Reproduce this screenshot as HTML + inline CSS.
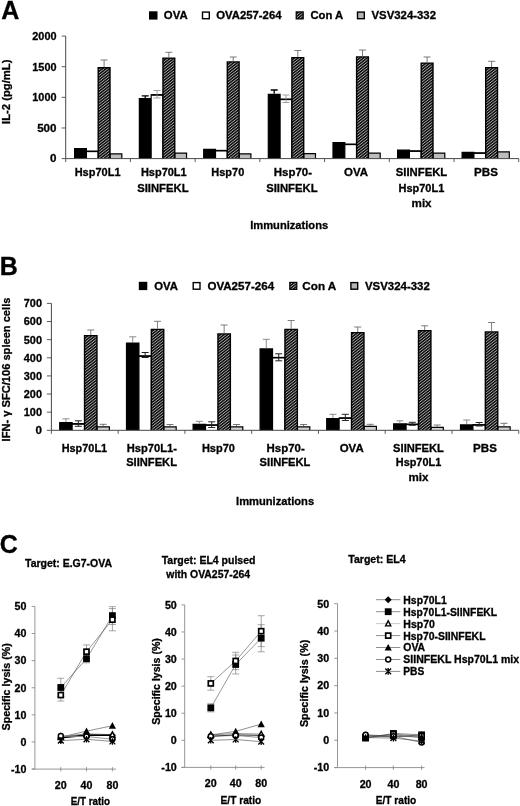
<!DOCTYPE html>
<html><head><meta charset="utf-8"><title>Figure</title>
<style>html,body{margin:0;padding:0;background:#fff}svg{display:block}</style></head><body>
<svg width="520" height="806" viewBox="0 0 520 806" font-family="Liberation Sans, sans-serif" font-weight="bold" fill="#000">
<style>text{stroke:#000;stroke-width:0.3px}</style>
<defs><pattern id="hatch" width="2.24" height="2.24" patternUnits="userSpaceOnUse" patternTransform="rotate(-38)"><rect width="2.24" height="2.24" fill="#acacac"/><rect width="2.24" height="1.38" fill="#060606"/></pattern>
<pattern id="hatchs" width="2" height="2" patternUnits="userSpaceOnUse" patternTransform="rotate(-45)"><rect width="2" height="2" fill="#c8c8c8"/><rect width="2" height="1.15" fill="#0a0a0a"/></pattern></defs>
<rect width="520" height="806" fill="#fff"/>
<text x="1.3" y="19.1" font-size="25" text-anchor="start" >A</text>
<text x="-0.3" y="274.8" font-size="25" text-anchor="start" >B</text>
<text x="-0.3" y="552.6" font-size="25" text-anchor="start" >C</text>
<rect x="149" y="11.3" width="8.5" height="8.3" fill="#000"/>
<text x="163.8" y="19.200000000000003" font-size="11" text-anchor="start" textLength="23.8" lengthAdjust="spacingAndGlyphs" >OVA</text>
<rect x="202.5" y="12.100000000000001" width="6.8" height="6.6" fill="#fff" stroke="#000" stroke-width="1.4"/>
<text x="216.2" y="19.200000000000003" font-size="11" text-anchor="start" textLength="65.3" lengthAdjust="spacingAndGlyphs" >OVA257-264</text>
<rect x="296.20000000000005" y="11.9" width="7" height="7" fill="url(#hatch)" stroke="#000" stroke-width="1.2"/>
<text x="310.4" y="19.200000000000003" font-size="11" text-anchor="start" textLength="32.8" lengthAdjust="spacingAndGlyphs" >Con A</text>
<rect x="357.5" y="12.100000000000001" width="6.8" height="6.6" fill="#b4b4b4" stroke="#000" stroke-width="1.4"/>
<text x="371.5" y="19.200000000000003" font-size="11" text-anchor="start" textLength="64.5" lengthAdjust="spacingAndGlyphs" >VSV324-332</text>
<path d="M74.6 158.6V148.6H86.4V158.6" fill="#000" stroke="#000" stroke-width="1.2"/>
<path d="M86.4 158.6V151.4H98.2V158.6" fill="#fff" stroke="#000" stroke-width="1.2"/>
<path d="M86.4 151.4H98.2" stroke="#000" stroke-width="1.5"/>
<path d="M110.0 158.6V153.9H121.8V158.6" fill="#bdbdbd" stroke="#000" stroke-width="1.2"/>
<path d="M98.2 158.6V67.8H110.0V158.6" fill="url(#hatch)" stroke="#000" stroke-width="1.4"/>
<path d="M104.1 60V67.2M100.6 60H107.6" stroke="#5a5a5a" stroke-width="0.8" fill="none"/>
<path d="M139.35 158.6V98.6H151.15V158.6" fill="#000" stroke="#000" stroke-width="1.2"/>
<path d="M151.15 158.6V94.9H162.95V158.6" fill="#fff" stroke="#000" stroke-width="1.2"/>
<path d="M151.15 94.9H162.95" stroke="#000" stroke-width="1.5"/>
<path d="M174.75 158.6V153.1H186.55V158.6" fill="#bdbdbd" stroke="#000" stroke-width="1.2"/>
<path d="M162.95 158.6V58.1H174.75V158.6" fill="url(#hatch)" stroke="#000" stroke-width="1.4"/>
<path d="M145.25 95.8V98M141.75 95.8H148.75" stroke="#000" stroke-width="1.3" fill="none"/>
<path d="M157.05 90.5V98M153.55 90.5H160.55M153.55 98H160.55" stroke="#8a8a8a" stroke-width="0.8" fill="none"/>
<path d="M168.85 52.3V57.5M165.35 52.3H172.35" stroke="#5a5a5a" stroke-width="0.8" fill="none"/>
<path d="M203.7 158.6V149.4H215.5V158.6" fill="#000" stroke="#000" stroke-width="1.2"/>
<path d="M215.5 158.6V150.6H227.3V158.6" fill="#fff" stroke="#000" stroke-width="1.2"/>
<path d="M215.5 150.6H227.3" stroke="#000" stroke-width="1.5"/>
<path d="M239.1 158.6V153.9H250.9V158.6" fill="#bdbdbd" stroke="#000" stroke-width="1.2"/>
<path d="M227.3 158.6V61.9H239.1V158.6" fill="url(#hatch)" stroke="#000" stroke-width="1.4"/>
<path d="M233.2 57V61.3M229.7 57H236.7" stroke="#5a5a5a" stroke-width="0.8" fill="none"/>
<path d="M268.3 158.6V94.4H280.1V158.6" fill="#000" stroke="#000" stroke-width="1.2"/>
<path d="M280.1 158.6V99.4H291.9V158.6" fill="#fff" stroke="#000" stroke-width="1.2"/>
<path d="M280.1 99.4H291.9" stroke="#000" stroke-width="1.5"/>
<path d="M303.7 158.6V153.6H315.5V158.6" fill="#bdbdbd" stroke="#000" stroke-width="1.2"/>
<path d="M291.9 158.6V57.6H303.7V158.6" fill="url(#hatch)" stroke="#000" stroke-width="1.4"/>
<path d="M274.2 90V93.8M270.7 90H277.7" stroke="#000" stroke-width="1.3" fill="none"/>
<path d="M286.0 95V102.5M282.5 95H289.5M282.5 102.5H289.5" stroke="#8a8a8a" stroke-width="0.8" fill="none"/>
<path d="M297.8 50.5V57M294.3 50.5H301.3" stroke="#5a5a5a" stroke-width="0.8" fill="none"/>
<path d="M333.0 158.6V142.6H344.8V158.6" fill="#000" stroke="#000" stroke-width="1.2"/>
<path d="M344.8 158.6V144.4H356.6V158.6" fill="#fff" stroke="#000" stroke-width="1.2"/>
<path d="M344.8 144.4H356.6" stroke="#000" stroke-width="1.5"/>
<path d="M368.4 158.6V153.1H380.2V158.6" fill="#bdbdbd" stroke="#000" stroke-width="1.2"/>
<path d="M356.6 158.6V56.9H368.4V158.6" fill="url(#hatch)" stroke="#000" stroke-width="1.4"/>
<path d="M362.5 50V56.3M359.0 50H366.0" stroke="#5a5a5a" stroke-width="0.8" fill="none"/>
<path d="M397.6 158.6V150.1H409.4V158.6" fill="#000" stroke="#000" stroke-width="1.2"/>
<path d="M409.4 158.6V151.1H421.2V158.6" fill="#fff" stroke="#000" stroke-width="1.2"/>
<path d="M409.4 151.1H421.2" stroke="#000" stroke-width="1.5"/>
<path d="M433.0 158.6V153.1H444.8V158.6" fill="#bdbdbd" stroke="#000" stroke-width="1.2"/>
<path d="M421.2 158.6V63.1H433.0V158.6" fill="url(#hatch)" stroke="#000" stroke-width="1.4"/>
<path d="M427.1 57V62.5M423.6 57H430.6" stroke="#5a5a5a" stroke-width="0.8" fill="none"/>
<path d="M462.1 158.6V152.4H473.9V158.6" fill="#000" stroke="#000" stroke-width="1.2"/>
<path d="M473.9 158.6V153.1H485.7V158.6" fill="#fff" stroke="#000" stroke-width="1.2"/>
<path d="M473.9 153.1H485.7" stroke="#000" stroke-width="1.5"/>
<path d="M497.5 158.6V151.9H509.3V158.6" fill="#bdbdbd" stroke="#000" stroke-width="1.2"/>
<path d="M485.7 158.6V67.6H497.5V158.6" fill="url(#hatch)" stroke="#000" stroke-width="1.4"/>
<path d="M491.6 61.3V67M488.1 61.3H495.1" stroke="#5a5a5a" stroke-width="0.8" fill="none"/>
<path d="M65.7 36.1V158.6H518.8" stroke="#484848" stroke-width="1" fill="none"/>
<path d="M61.7 36.1H65.7" stroke="#484848" stroke-width="0.9"/>
<text x="56.5" y="39.9" font-size="11.6" text-anchor="end" textLength="24.2" lengthAdjust="spacingAndGlyphs" >2000</text>
<path d="M61.7 66.72H65.7" stroke="#484848" stroke-width="0.9"/>
<text x="56.5" y="70.5" font-size="11.6" text-anchor="end" textLength="24.2" lengthAdjust="spacingAndGlyphs" >1500</text>
<path d="M61.7 97.35H65.7" stroke="#484848" stroke-width="0.9"/>
<text x="56.5" y="101.1" font-size="11.6" text-anchor="end" textLength="24.2" lengthAdjust="spacingAndGlyphs" >1000</text>
<path d="M61.7 127.97H65.7" stroke="#484848" stroke-width="0.9"/>
<text x="56.5" y="131.8" font-size="11.6" text-anchor="end" >500</text>
<path d="M61.7 158.6H65.7" stroke="#484848" stroke-width="0.9"/>
<text x="56.5" y="162.4" font-size="11.6" text-anchor="end" >0</text>
<path d="M65.7 158.6V162.1" stroke="#484848" stroke-width="0.9"/>
<path d="M130.42 158.6V162.1" stroke="#484848" stroke-width="0.9"/>
<path d="M195.14 158.6V162.1" stroke="#484848" stroke-width="0.9"/>
<path d="M259.86 158.6V162.1" stroke="#484848" stroke-width="0.9"/>
<path d="M324.58 158.6V162.1" stroke="#484848" stroke-width="0.9"/>
<path d="M389.3 158.6V162.1" stroke="#484848" stroke-width="0.9"/>
<path d="M454.02 158.6V162.1" stroke="#484848" stroke-width="0.9"/>
<path d="M518.74 158.6V162.1" stroke="#484848" stroke-width="0.9"/>
<text transform="translate(10,124) rotate(-90)" font-size="11.6" textLength="64.5" lengthAdjust="spacingAndGlyphs">IL-2 (pg/mL)</text>
<text x="97.6" y="176.2" font-size="11.6" text-anchor="middle" textLength="45.8" lengthAdjust="spacingAndGlyphs" >Hsp70L1</text>
<text x="163.8" y="176.2" font-size="11.6" text-anchor="middle" textLength="45.8" lengthAdjust="spacingAndGlyphs" >Hsp70L1</text>
<text x="162.9" y="191.8" font-size="11.6" text-anchor="middle" textLength="51.5" lengthAdjust="spacingAndGlyphs" >SIINFEKL</text>
<text x="227.8" y="176.2" font-size="11.6" text-anchor="middle" textLength="33" lengthAdjust="spacingAndGlyphs" >Hsp70</text>
<text x="292.9" y="176.2" font-size="11.6" text-anchor="middle" textLength="38.2" lengthAdjust="spacingAndGlyphs" >Hsp70-</text>
<text x="291.9" y="191.8" font-size="11.6" text-anchor="middle" textLength="51.5" lengthAdjust="spacingAndGlyphs" >SIINFEKL</text>
<text x="356" y="176.2" font-size="11.6" text-anchor="middle" textLength="24" lengthAdjust="spacingAndGlyphs" >OVA</text>
<text x="421.5" y="176.2" font-size="11.6" text-anchor="middle" textLength="51.5" lengthAdjust="spacingAndGlyphs" >SIINFEKL</text>
<text x="421.4" y="191.8" font-size="11.6" text-anchor="middle" textLength="45.8" lengthAdjust="spacingAndGlyphs" >Hsp70L1</text>
<text x="421.6" y="207.3" font-size="11.6" text-anchor="middle" >mix</text>
<text x="486" y="176.2" font-size="11.6" text-anchor="middle" >PBS</text>
<text x="289.2" y="228.5" font-size="11.6" text-anchor="middle" textLength="78" lengthAdjust="spacingAndGlyphs" >Immunizations</text>
<rect x="138.8" y="281.8" width="8.5" height="8.3" fill="#000"/>
<text x="154.3" y="289.7" font-size="11" text-anchor="start" textLength="23.7" lengthAdjust="spacingAndGlyphs" >OVA</text>
<rect x="193.2" y="282.6" width="6.8" height="6.6" fill="#fff" stroke="#000" stroke-width="1.4"/>
<text x="207.4" y="289.7" font-size="11" text-anchor="start" textLength="66.7" lengthAdjust="spacingAndGlyphs" >OVA257-264</text>
<rect x="289.8" y="282.40000000000003" width="7" height="7" fill="url(#hatch)" stroke="#000" stroke-width="1.2"/>
<text x="302.3" y="289.7" font-size="11" text-anchor="start" textLength="34" lengthAdjust="spacingAndGlyphs" >Con A</text>
<rect x="350.9" y="282.6" width="6.8" height="6.6" fill="#b4b4b4" stroke="#000" stroke-width="1.4"/>
<text x="365" y="289.7" font-size="11" text-anchor="start" textLength="64.8" lengthAdjust="spacingAndGlyphs" >VSV324-332</text>
<path d="M59.7 430.3V422.6H72.12V430.3" fill="#000" stroke="#000" stroke-width="1.2"/>
<path d="M72.12 430.3V423.9H84.54V430.3" fill="#fff" stroke="#000" stroke-width="1.2"/>
<path d="M72.12 423.9H84.54" stroke="#000" stroke-width="1.5"/>
<path d="M96.96 430.3V426.9H109.38V430.3" fill="#d2d2d2" stroke="#000" stroke-width="1.2"/>
<path d="M84.54 430.3V335.6H96.96V430.3" fill="url(#hatch)" stroke="#000" stroke-width="1.4"/>
<path d="M65.91 418.8V422M62.41 418.8H69.41" stroke="#808080" stroke-width="0.9" fill="none"/>
<path d="M78.33 420.8V426.3M74.83 420.8H81.83M74.83 426.3H81.83" stroke="#222" stroke-width="1.0" fill="none"/>
<path d="M90.75 330V335M87.25 330H94.25" stroke="#707070" stroke-width="0.9" fill="none"/>
<path d="M103.17 424.3V426.3M99.67 424.3H106.67" stroke="#555" stroke-width="0.8" fill="none"/>
<path d="M126.5 430.3V343.1H138.92V430.3" fill="#000" stroke="#000" stroke-width="1.2"/>
<path d="M138.92 430.3V356.1H151.34V430.3" fill="#fff" stroke="#000" stroke-width="1.2"/>
<path d="M138.92 356.1H151.34" stroke="#000" stroke-width="1.5"/>
<path d="M163.76 430.3V426.9H176.18V430.3" fill="#d2d2d2" stroke="#000" stroke-width="1.2"/>
<path d="M151.34 430.3V329.4H163.76V430.3" fill="url(#hatch)" stroke="#000" stroke-width="1.4"/>
<path d="M132.71 336.8V342.5M129.21 336.8H136.21" stroke="#808080" stroke-width="0.9" fill="none"/>
<path d="M145.13 352.5V357.5M141.63 352.5H148.63M141.63 357.5H148.63" stroke="#222" stroke-width="1.0" fill="none"/>
<path d="M157.55 321.3V328.8M154.05 321.3H161.05" stroke="#707070" stroke-width="0.9" fill="none"/>
<path d="M169.97 424.5V426.3M166.47 424.5H173.47" stroke="#555" stroke-width="0.8" fill="none"/>
<path d="M193.1 430.3V424.4H205.52V430.3" fill="#000" stroke="#000" stroke-width="1.2"/>
<path d="M205.52 430.3V425.1H217.94V430.3" fill="#fff" stroke="#000" stroke-width="1.2"/>
<path d="M205.52 425.1H217.94" stroke="#000" stroke-width="1.5"/>
<path d="M230.36 430.3V426.9H242.78V430.3" fill="#d2d2d2" stroke="#000" stroke-width="1.2"/>
<path d="M217.94 430.3V333.9H230.36V430.3" fill="url(#hatch)" stroke="#000" stroke-width="1.4"/>
<path d="M199.31 421.3V423.8M195.81 421.3H202.81" stroke="#808080" stroke-width="0.9" fill="none"/>
<path d="M211.73 421.8V427.5M208.23 421.8H215.23M208.23 427.5H215.23" stroke="#222" stroke-width="1.0" fill="none"/>
<path d="M224.15 325V333.3M220.65 325H227.65" stroke="#707070" stroke-width="0.9" fill="none"/>
<path d="M236.57 424.5V426.3M233.07 424.5H240.07" stroke="#555" stroke-width="0.8" fill="none"/>
<path d="M260.1 430.3V348.9H272.52V430.3" fill="#000" stroke="#000" stroke-width="1.2"/>
<path d="M272.52 430.3V357.6H284.94V430.3" fill="#fff" stroke="#000" stroke-width="1.2"/>
<path d="M272.52 357.6H284.94" stroke="#000" stroke-width="1.5"/>
<path d="M297.36 430.3V426.9H309.78V430.3" fill="#d2d2d2" stroke="#000" stroke-width="1.2"/>
<path d="M284.94 430.3V329.4H297.36V430.3" fill="url(#hatch)" stroke="#000" stroke-width="1.4"/>
<path d="M266.31 339.3V348.3M262.81 339.3H269.81" stroke="#808080" stroke-width="0.9" fill="none"/>
<path d="M278.73 353.8V360.8M275.23 353.8H282.23M275.23 360.8H282.23" stroke="#222" stroke-width="1.0" fill="none"/>
<path d="M291.15 320.5V328.8M287.65 320.5H294.65" stroke="#707070" stroke-width="0.9" fill="none"/>
<path d="M303.57 424.5V426.3M300.07 424.5H307.07" stroke="#555" stroke-width="0.8" fill="none"/>
<path d="M326.7 430.3V418.6H339.12V430.3" fill="#000" stroke="#000" stroke-width="1.2"/>
<path d="M339.12 430.3V418.1H351.54V430.3" fill="#fff" stroke="#000" stroke-width="1.2"/>
<path d="M339.12 418.1H351.54" stroke="#000" stroke-width="1.5"/>
<path d="M363.96 430.3V426.4H376.38V430.3" fill="#d2d2d2" stroke="#000" stroke-width="1.2"/>
<path d="M351.54 430.3V332.6H363.96V430.3" fill="url(#hatch)" stroke="#000" stroke-width="1.4"/>
<path d="M332.91 414.3V418M329.41 414.3H336.41" stroke="#808080" stroke-width="0.9" fill="none"/>
<path d="M345.33 414.3V420.5M341.83 414.3H348.83M341.83 420.5H348.83" stroke="#222" stroke-width="1.0" fill="none"/>
<path d="M357.75 327V332M354.25 327H361.25" stroke="#707070" stroke-width="0.9" fill="none"/>
<path d="M370.17 424.3V425.8M366.67 424.3H373.67" stroke="#555" stroke-width="0.8" fill="none"/>
<path d="M393.65 430.3V423.9H406.07V430.3" fill="#000" stroke="#000" stroke-width="1.2"/>
<path d="M406.07 430.3V424.4H418.49V430.3" fill="#fff" stroke="#000" stroke-width="1.2"/>
<path d="M406.07 424.4H418.49" stroke="#000" stroke-width="1.5"/>
<path d="M430.91 430.3V427.3H443.33V430.3" fill="#d2d2d2" stroke="#000" stroke-width="1.2"/>
<path d="M418.49 430.3V330.6H430.91V430.3" fill="url(#hatch)" stroke="#000" stroke-width="1.4"/>
<path d="M399.86 420.8V423.3M396.36 420.8H403.36" stroke="#808080" stroke-width="0.9" fill="none"/>
<path d="M412.28 422.3V425.3M408.78 422.3H415.78M408.78 425.3H415.78" stroke="#222" stroke-width="1.0" fill="none"/>
<path d="M424.7 325.8V330M421.2 325.8H428.2" stroke="#707070" stroke-width="0.9" fill="none"/>
<path d="M437.12 425V426.7M433.62 425H440.62" stroke="#555" stroke-width="0.8" fill="none"/>
<path d="M460.5 430.3V424.9H472.92V430.3" fill="#000" stroke="#000" stroke-width="1.2"/>
<path d="M472.92 430.3V424.9H485.34V430.3" fill="#fff" stroke="#000" stroke-width="1.2"/>
<path d="M472.92 424.9H485.34" stroke="#000" stroke-width="1.5"/>
<path d="M497.76 430.3V426.9H510.18V430.3" fill="#d2d2d2" stroke="#000" stroke-width="1.2"/>
<path d="M485.34 430.3V331.9H497.76V430.3" fill="url(#hatch)" stroke="#000" stroke-width="1.4"/>
<path d="M466.71 420V424.3M463.21 420H470.21" stroke="#808080" stroke-width="0.9" fill="none"/>
<path d="M479.13 422.5V426M475.63 422.5H482.63M475.63 426H482.63" stroke="#222" stroke-width="1.0" fill="none"/>
<path d="M491.55 322.5V331.3M488.05 322.5H495.05" stroke="#707070" stroke-width="0.9" fill="none"/>
<path d="M503.97 423.3V426.3M500.47 423.3H507.47" stroke="#555" stroke-width="0.8" fill="none"/>
<path d="M51.4 303.4V430.3H518.7" stroke="#484848" stroke-width="1" fill="none"/>
<path d="M46.9 303.4H51.4" stroke="#484848" stroke-width="0.9"/>
<text x="42" y="307.2" font-size="11.6" text-anchor="end" textLength="18.2" lengthAdjust="spacingAndGlyphs" >700</text>
<path d="M46.9 321.53H51.4" stroke="#484848" stroke-width="0.9"/>
<text x="42" y="325.3" font-size="11.6" text-anchor="end" textLength="18.2" lengthAdjust="spacingAndGlyphs" >600</text>
<path d="M46.9 339.66H51.4" stroke="#484848" stroke-width="0.9"/>
<text x="42" y="343.5" font-size="11.6" text-anchor="end" textLength="18.2" lengthAdjust="spacingAndGlyphs" >500</text>
<path d="M46.9 357.79H51.4" stroke="#484848" stroke-width="0.9"/>
<text x="42" y="361.6" font-size="11.6" text-anchor="end" textLength="18.2" lengthAdjust="spacingAndGlyphs" >400</text>
<path d="M46.9 375.91H51.4" stroke="#484848" stroke-width="0.9"/>
<text x="42" y="379.7" font-size="11.6" text-anchor="end" textLength="18.2" lengthAdjust="spacingAndGlyphs" >300</text>
<path d="M46.9 394.04H51.4" stroke="#484848" stroke-width="0.9"/>
<text x="42" y="397.8" font-size="11.6" text-anchor="end" textLength="18.2" lengthAdjust="spacingAndGlyphs" >200</text>
<path d="M46.9 412.17H51.4" stroke="#484848" stroke-width="0.9"/>
<text x="42" y="416.0" font-size="11.6" text-anchor="end" textLength="18.2" lengthAdjust="spacingAndGlyphs" >100</text>
<path d="M46.9 430.3H51.4" stroke="#484848" stroke-width="0.9"/>
<text x="42" y="434.1" font-size="11.6" text-anchor="end" >0</text>
<path d="M51.4 430.3V433.8" stroke="#484848" stroke-width="0.9"/>
<path d="M118.16 430.3V433.8" stroke="#484848" stroke-width="0.9"/>
<path d="M184.92 430.3V433.8" stroke="#484848" stroke-width="0.9"/>
<path d="M251.68 430.3V433.8" stroke="#484848" stroke-width="0.9"/>
<path d="M318.44 430.3V433.8" stroke="#484848" stroke-width="0.9"/>
<path d="M385.2 430.3V433.8" stroke="#484848" stroke-width="0.9"/>
<path d="M451.96 430.3V433.8" stroke="#484848" stroke-width="0.9"/>
<path d="M518.72 430.3V433.8" stroke="#484848" stroke-width="0.9"/>
<text transform="translate(10,441.4) rotate(-90)" font-size="11.6" textLength="143.8" lengthAdjust="spacingAndGlyphs">IFN- γ SFC/106 spleen cells</text>
<text x="84.4" y="452" font-size="11.6" text-anchor="middle" textLength="45.4" lengthAdjust="spacingAndGlyphs" >Hsp70L1</text>
<text x="151.9" y="452" font-size="11.6" text-anchor="middle" textLength="50.2" lengthAdjust="spacingAndGlyphs" >Hsp70L1-</text>
<text x="151.6" y="466.3" font-size="11.6" text-anchor="middle" textLength="50.8" lengthAdjust="spacingAndGlyphs" >SIINFEKL</text>
<text x="218.4" y="452" font-size="11.6" text-anchor="middle" textLength="33" lengthAdjust="spacingAndGlyphs" >Hsp70</text>
<text x="285.7" y="452" font-size="11.6" text-anchor="middle" textLength="38.2" lengthAdjust="spacingAndGlyphs" >Hsp70-</text>
<text x="285" y="466.3" font-size="11.6" text-anchor="middle" textLength="50.8" lengthAdjust="spacingAndGlyphs" >SIINFEKL</text>
<text x="351.7" y="452" font-size="11.6" text-anchor="middle" textLength="24" lengthAdjust="spacingAndGlyphs" >OVA</text>
<text x="418.5" y="452" font-size="11.6" text-anchor="middle" textLength="50.8" lengthAdjust="spacingAndGlyphs" >SIINFEKL</text>
<text x="418.5" y="466.3" font-size="11.6" text-anchor="middle" textLength="45.4" lengthAdjust="spacingAndGlyphs" >Hsp70L1</text>
<text x="418.5" y="480.8" font-size="11.6" text-anchor="middle" >mix</text>
<text x="485" y="452" font-size="11.6" text-anchor="middle" >PBS</text>
<text x="275.1" y="505.3" font-size="11.6" text-anchor="middle" textLength="78" lengthAdjust="spacingAndGlyphs" >Immunizations</text>
<path d="M34.9 606.4V769.1H116M31.7 769.1H34.9" stroke="#8a8a8a" stroke-width="0.9" fill="none"/>
<path d="M31.7 606.4H34.9" stroke="#8a8a8a" stroke-width="0.9"/>
<text x="26.4" y="610.2" font-size="10.7" text-anchor="end" >50</text>
<path d="M31.7 633.52H34.9" stroke="#8a8a8a" stroke-width="0.9"/>
<text x="26.4" y="637.3" font-size="10.7" text-anchor="end" >40</text>
<path d="M31.7 660.63H34.9" stroke="#8a8a8a" stroke-width="0.9"/>
<text x="26.4" y="664.4" font-size="10.7" text-anchor="end" >30</text>
<path d="M31.7 687.75H34.9" stroke="#8a8a8a" stroke-width="0.9"/>
<text x="26.4" y="691.5" font-size="10.7" text-anchor="end" >20</text>
<path d="M31.7 714.87H34.9" stroke="#8a8a8a" stroke-width="0.9"/>
<text x="26.4" y="718.7" font-size="10.7" text-anchor="end" >10</text>
<path d="M31.7 741.98H34.9" stroke="#8a8a8a" stroke-width="0.9"/>
<text x="26.4" y="745.8" font-size="10.7" text-anchor="end" >0</text>
<path d="M31.7 769.1H34.9" stroke="#8a8a8a" stroke-width="0.9"/>
<text x="26.4" y="772.9" font-size="10.7" text-anchor="end" >-10</text>
<path d="M60.8 767.1V771.3000000000001" stroke="#8a8a8a" stroke-width="0.9"/>
<text x="60.8" y="788.8" font-size="10.7" text-anchor="middle" >20</text>
<path d="M86.5 767.1V771.3000000000001" stroke="#8a8a8a" stroke-width="0.9"/>
<text x="86.5" y="788.8" font-size="10.7" text-anchor="middle" >40</text>
<path d="M112.4 767.1V771.3000000000001" stroke="#8a8a8a" stroke-width="0.9"/>
<text x="112.4" y="788.8" font-size="10.7" text-anchor="middle" >80</text>
<text x="90.4" y="804.5" font-size="10.7" text-anchor="middle" textLength="39.3" lengthAdjust="spacingAndGlyphs" >E/T ratio</text>
<text x="68.5" y="566.8" font-size="10.7" text-anchor="middle" textLength="87" lengthAdjust="spacingAndGlyphs" >Target: E.G7-OVA</text>
<text transform="translate(9.8,730.4) rotate(-90)" font-size="10.7" textLength="87.2" lengthAdjust="spacingAndGlyphs">Specific lysis (%)</text>
<polyline points="60.8,737.64 86.5,735.2 112.4,735.2" fill="none" stroke="#000" stroke-width="1.7"/>
<polyline points="60.8,687.48 86.5,658.74 112.4,615.62" fill="none" stroke="#505050" stroke-width="0.6"/>
<polyline points="60.8,736.56 86.5,733.85 112.4,734.66" fill="none" stroke="#444" stroke-width="0.6"/>
<polyline points="60.8,695.07 86.5,651.68 112.4,619.69" fill="none" stroke="#505050" stroke-width="0.6"/>
<polyline points="60.8,737.1 86.5,731.14 112.4,725.71" fill="none" stroke="#444" stroke-width="0.6"/>
<polyline points="60.8,736.02 86.5,736.56 112.4,739.27" fill="none" stroke="#999" stroke-width="1.1"/>
<polyline points="60.8,740.63 86.5,739.27 112.4,741.44" fill="none" stroke="#444" stroke-width="0.6"/>
<path d="M60.8 678.26V696.7M57.3 678.26H64.3M57.3 696.7H64.3" stroke="#808080" stroke-width="0.7" fill="none"/>
<path d="M86.5 654.67V662.8M83.0 654.67H90.0M83.0 662.8H90.0" stroke="#808080" stroke-width="0.7" fill="none"/>
<path d="M112.4 606.67V624.57M108.9 606.67H115.9M108.9 624.57H115.9" stroke="#808080" stroke-width="0.7" fill="none"/>
<path d="M60.8 689.11V701.04M57.3 689.11H64.3M57.3 701.04H64.3" stroke="#808080" stroke-width="0.7" fill="none"/>
<path d="M86.5 644.91V658.46M83.0 644.91H90.0M83.0 658.46H90.0" stroke="#808080" stroke-width="0.7" fill="none"/>
<path d="M112.4 608.57V630.8M108.9 608.57H115.9M108.9 630.8H115.9" stroke="#808080" stroke-width="0.7" fill="none"/>
<path d="M60.8 734.14L64.3 737.64L60.8 741.14L57.3 737.64Z" fill="#000"/>
<path d="M86.5 731.7L90.0 735.2L86.5 738.7L83.0 735.2Z" fill="#000"/>
<path d="M112.4 731.7L115.9 735.2L112.4 738.7L108.9 735.2Z" fill="#000"/>
<rect x="57.4" y="684.08" width="6.8" height="6.8" fill="#000"/>
<rect x="83.1" y="655.34" width="6.8" height="6.8" fill="#000"/>
<rect x="109.0" y="612.22" width="6.8" height="6.8" fill="#000"/>
<path d="M60.8 733.76L63.4 738.86H58.199999999999996Z" fill="#fff" stroke="#000" stroke-width="1.4" stroke-linejoin="miter"/>
<path d="M86.5 731.05L89.1 736.15H83.9Z" fill="#fff" stroke="#000" stroke-width="1.4" stroke-linejoin="miter"/>
<path d="M112.4 731.86L115.0 736.96H109.80000000000001Z" fill="#fff" stroke="#000" stroke-width="1.4" stroke-linejoin="miter"/>
<rect x="58.3" y="692.57" width="5" height="5" fill="#fff" stroke="#000" stroke-width="1.7"/>
<rect x="84.0" y="649.18" width="5" height="5" fill="#fff" stroke="#000" stroke-width="1.7"/>
<rect x="109.9" y="617.19" width="5" height="5" fill="#fff" stroke="#000" stroke-width="1.7"/>
<path d="M60.8 733.5L64.39999999999999 740.2H57.199999999999996Z" fill="#000"/>
<path d="M86.5 727.54L90.1 734.24H82.9Z" fill="#000"/>
<path d="M112.4 722.11L116.0 728.81H108.80000000000001Z" fill="#000"/>
<circle cx="60.8" cy="736.02" r="2.5" fill="#fff" stroke="#000" stroke-width="1.5"/>
<circle cx="86.5" cy="736.56" r="2.5" fill="#fff" stroke="#000" stroke-width="1.5"/>
<circle cx="112.4" cy="739.27" r="2.5" fill="#fff" stroke="#000" stroke-width="1.5"/>
<path d="M57.9 737.73L63.699999999999996 743.53M63.699999999999996 737.73L57.9 743.53M60.8 737.33V743.93" stroke="#000" stroke-width="1.3" fill="none"/>
<path d="M83.6 736.37L89.4 742.17M89.4 736.37L83.6 742.17M86.5 735.97V742.57" stroke="#000" stroke-width="1.3" fill="none"/>
<path d="M109.5 738.54L115.30000000000001 744.34M115.30000000000001 738.54L109.5 744.34M112.4 738.14V744.74" stroke="#000" stroke-width="1.3" fill="none"/>
<path d="M184.7 604.9V767.4H264.5M181.5 767.4H184.7" stroke="#8a8a8a" stroke-width="0.9" fill="none"/>
<path d="M181.5 604.9H184.7" stroke="#8a8a8a" stroke-width="0.9"/>
<text x="176.8" y="608.7" font-size="10.7" text-anchor="end" >50</text>
<path d="M181.5 631.98H184.7" stroke="#8a8a8a" stroke-width="0.9"/>
<text x="176.8" y="635.8" font-size="10.7" text-anchor="end" >40</text>
<path d="M181.5 659.07H184.7" stroke="#8a8a8a" stroke-width="0.9"/>
<text x="176.8" y="662.9" font-size="10.7" text-anchor="end" >30</text>
<path d="M181.5 686.15H184.7" stroke="#8a8a8a" stroke-width="0.9"/>
<text x="176.8" y="689.9" font-size="10.7" text-anchor="end" >20</text>
<path d="M181.5 713.23H184.7" stroke="#8a8a8a" stroke-width="0.9"/>
<text x="176.8" y="717.0" font-size="10.7" text-anchor="end" >10</text>
<path d="M181.5 740.32H184.7" stroke="#8a8a8a" stroke-width="0.9"/>
<text x="176.8" y="744.1" font-size="10.7" text-anchor="end" >0</text>
<path d="M181.5 767.4H184.7" stroke="#8a8a8a" stroke-width="0.9"/>
<text x="176.8" y="771.2" font-size="10.7" text-anchor="end" >-10</text>
<path d="M210.8 765.4V769.6" stroke="#8a8a8a" stroke-width="0.9"/>
<text x="210.8" y="787.2" font-size="10.7" text-anchor="middle" >20</text>
<path d="M235.7 765.4V769.6" stroke="#8a8a8a" stroke-width="0.9"/>
<text x="235.7" y="787.2" font-size="10.7" text-anchor="middle" >40</text>
<path d="M261.2 765.4V769.6" stroke="#8a8a8a" stroke-width="0.9"/>
<text x="261.2" y="787.2" font-size="10.7" text-anchor="middle" >80</text>
<text x="240.9" y="803.8" font-size="10.7" text-anchor="middle" textLength="40.7" lengthAdjust="spacingAndGlyphs" >E/T ratio</text>
<text x="208.6" y="564.3" font-size="10.7" text-anchor="middle" textLength="93.8" lengthAdjust="spacingAndGlyphs" >Target: EL4 pulsed</text>
<text x="208.2" y="578" font-size="10.7" text-anchor="middle" textLength="83.8" lengthAdjust="spacingAndGlyphs" >with OVA257-264</text>
<text transform="translate(160.2,724.7) rotate(-90)" font-size="10.7" textLength="86.6" lengthAdjust="spacingAndGlyphs">Specific lysis (%)</text>
<polyline points="210.8,736.25 235.7,734.9 261.2,735.44" fill="none" stroke="#222" stroke-width="0.9"/>
<polyline points="210.8,707.82 235.7,664.48 261.2,638.21" fill="none" stroke="#505050" stroke-width="0.6"/>
<polyline points="210.8,734.9 235.7,733.55 261.2,734.09" fill="none" stroke="#444" stroke-width="0.6"/>
<polyline points="210.8,683.44 235.7,660.96 261.2,631.17" fill="none" stroke="#505050" stroke-width="0.6"/>
<polyline points="210.8,734.9 235.7,731.38 261.2,724.07" fill="none" stroke="#444" stroke-width="0.6"/>
<polyline points="210.8,736.25 235.7,735.44 261.2,737.61" fill="none" stroke="#444" stroke-width="0.6"/>
<polyline points="210.8,740.32 235.7,739.5 261.2,741.67" fill="none" stroke="#444" stroke-width="0.6"/>
<path d="M210.8 703.75V711.88M207.3 703.75H214.3M207.3 711.88H214.3" stroke="#808080" stroke-width="0.7" fill="none"/>
<path d="M235.7 655.0V673.96M232.2 655.0H239.2M232.2 673.96H239.2" stroke="#808080" stroke-width="0.7" fill="none"/>
<path d="M261.2 624.67V651.75M257.7 624.67H264.7M257.7 651.75H264.7" stroke="#808080" stroke-width="0.7" fill="none"/>
<path d="M210.8 676.67V690.21M207.3 676.67H214.3M207.3 690.21H214.3" stroke="#808080" stroke-width="0.7" fill="none"/>
<path d="M235.7 652.3V669.63M232.2 652.3H239.2M232.2 669.63H239.2" stroke="#808080" stroke-width="0.7" fill="none"/>
<path d="M261.2 615.73V646.61M257.7 615.73H264.7M257.7 646.61H264.7" stroke="#808080" stroke-width="0.7" fill="none"/>
<path d="M210.8 732.75L214.3 736.25L210.8 739.75L207.3 736.25Z" fill="#000"/>
<path d="M235.7 731.4L239.2 734.9L235.7 738.4L232.2 734.9Z" fill="#000"/>
<path d="M261.2 731.94L264.7 735.44L261.2 738.94L257.7 735.44Z" fill="#000"/>
<rect x="207.4" y="704.42" width="6.8" height="6.8" fill="#000"/>
<rect x="232.3" y="661.08" width="6.8" height="6.8" fill="#000"/>
<rect x="257.8" y="634.81" width="6.8" height="6.8" fill="#000"/>
<path d="M210.8 732.1L213.4 737.2H208.20000000000002Z" fill="#fff" stroke="#000" stroke-width="1.4" stroke-linejoin="miter"/>
<path d="M235.7 730.75L238.29999999999998 735.85H233.1Z" fill="#fff" stroke="#000" stroke-width="1.4" stroke-linejoin="miter"/>
<path d="M261.2 731.29L263.8 736.39H258.59999999999997Z" fill="#fff" stroke="#000" stroke-width="1.4" stroke-linejoin="miter"/>
<rect x="208.3" y="680.94" width="5" height="5" fill="#fff" stroke="#000" stroke-width="1.7"/>
<rect x="233.2" y="658.46" width="5" height="5" fill="#fff" stroke="#000" stroke-width="1.7"/>
<rect x="258.7" y="628.67" width="5" height="5" fill="#fff" stroke="#000" stroke-width="1.7"/>
<path d="M210.8 731.3L214.4 738.0H207.20000000000002Z" fill="#000"/>
<path d="M235.7 727.78L239.29999999999998 734.48H232.1Z" fill="#000"/>
<path d="M261.2 720.47L264.8 727.17H257.59999999999997Z" fill="#000"/>
<circle cx="210.8" cy="736.25" r="2.5" fill="#fff" stroke="#000" stroke-width="1.5"/>
<circle cx="235.7" cy="735.44" r="2.5" fill="#fff" stroke="#000" stroke-width="1.5"/>
<circle cx="261.2" cy="737.61" r="2.5" fill="#fff" stroke="#000" stroke-width="1.5"/>
<path d="M207.9 737.42L213.70000000000002 743.22M213.70000000000002 737.42L207.9 743.22M210.8 737.02V743.62" stroke="#000" stroke-width="1.3" fill="none"/>
<path d="M232.79999999999998 736.6L238.6 742.4M238.6 736.6L232.79999999999998 742.4M235.7 736.2V742.8" stroke="#000" stroke-width="1.3" fill="none"/>
<path d="M258.3 738.77L264.09999999999997 744.57M264.09999999999997 738.77L258.3 744.57M261.2 738.37V744.97" stroke="#000" stroke-width="1.3" fill="none"/>
<path d="M337.5 603.7V767.6H424.5M334.3 767.6H337.5" stroke="#8a8a8a" stroke-width="0.9" fill="none"/>
<path d="M334.3 603.7H337.5" stroke="#8a8a8a" stroke-width="0.9"/>
<text x="329.2" y="607.5" font-size="10.7" text-anchor="end" >50</text>
<path d="M334.3 631.02H337.5" stroke="#8a8a8a" stroke-width="0.9"/>
<text x="329.2" y="634.8" font-size="10.7" text-anchor="end" >40</text>
<path d="M334.3 658.33H337.5" stroke="#8a8a8a" stroke-width="0.9"/>
<text x="329.2" y="662.1" font-size="10.7" text-anchor="end" >30</text>
<path d="M334.3 685.65H337.5" stroke="#8a8a8a" stroke-width="0.9"/>
<text x="329.2" y="689.4" font-size="10.7" text-anchor="end" >20</text>
<path d="M334.3 712.97H337.5" stroke="#8a8a8a" stroke-width="0.9"/>
<text x="329.2" y="716.8" font-size="10.7" text-anchor="end" >10</text>
<path d="M334.3 740.28H337.5" stroke="#8a8a8a" stroke-width="0.9"/>
<text x="329.2" y="744.1" font-size="10.7" text-anchor="end" >0</text>
<path d="M334.3 767.6H337.5" stroke="#8a8a8a" stroke-width="0.9"/>
<text x="329.2" y="771.4" font-size="10.7" text-anchor="end" >-10</text>
<path d="M365.6 765.6V769.8000000000001" stroke="#8a8a8a" stroke-width="0.9"/>
<text x="365.6" y="788" font-size="10.7" text-anchor="middle" >20</text>
<path d="M393.4 765.6V769.8000000000001" stroke="#8a8a8a" stroke-width="0.9"/>
<text x="393.4" y="788" font-size="10.7" text-anchor="middle" >40</text>
<path d="M421.6 765.6V769.8000000000001" stroke="#8a8a8a" stroke-width="0.9"/>
<text x="421.6" y="788" font-size="10.7" text-anchor="middle" >80</text>
<text x="396" y="803.8" font-size="10.7" text-anchor="middle" textLength="40.5" lengthAdjust="spacingAndGlyphs" >E/T ratio</text>
<text x="376.9" y="562.5" font-size="10.7" text-anchor="middle" textLength="57.3" lengthAdjust="spacingAndGlyphs" >Target: EL4</text>
<text transform="translate(307.7,727) rotate(-90)" font-size="10.7" textLength="87.2" lengthAdjust="spacingAndGlyphs">Specific lysis (%)</text>
<polyline points="365.6,735.37 393.4,737.01 421.6,734.82" fill="none" stroke="#444" stroke-width="0.6"/>
<polyline points="365.6,738.1 393.4,733.45 421.6,734.82" fill="none" stroke="#444" stroke-width="0.6"/>
<polyline points="365.6,736.19 393.4,734.82 421.6,737.55" fill="none" stroke="#444" stroke-width="0.6"/>
<polyline points="365.6,737.55 393.4,734.27 421.6,736.19" fill="none" stroke="#444" stroke-width="0.6"/>
<polyline points="365.6,737.01 393.4,736.19 421.6,737.01" fill="none" stroke="#444" stroke-width="0.6"/>
<polyline points="365.6,734.82 393.4,736.19 421.6,742.47" fill="none" stroke="#444" stroke-width="0.6"/>
<polyline points="365.6,737.55 393.4,738.1 421.6,741.1" fill="none" stroke="#444" stroke-width="0.6"/>
<path d="M365.6 731.87L369.1 735.37L365.6 738.87L362.1 735.37Z" fill="#000"/>
<path d="M393.4 733.51L396.9 737.01L393.4 740.51L389.9 737.01Z" fill="#000"/>
<path d="M421.6 731.32L425.1 734.82L421.6 738.32L418.1 734.82Z" fill="#000"/>
<rect x="362.2" y="734.7" width="6.8" height="6.8" fill="#000"/>
<rect x="390.0" y="730.05" width="6.8" height="6.8" fill="#000"/>
<rect x="418.2" y="731.42" width="6.8" height="6.8" fill="#000"/>
<path d="M365.6 733.39L368.20000000000005 738.49H363.0Z" fill="#fff" stroke="#000" stroke-width="1.4" stroke-linejoin="miter"/>
<path d="M393.4 732.02L396.0 737.12H390.79999999999995Z" fill="#fff" stroke="#000" stroke-width="1.4" stroke-linejoin="miter"/>
<path d="M421.6 734.75L424.20000000000005 739.85H419.0Z" fill="#fff" stroke="#000" stroke-width="1.4" stroke-linejoin="miter"/>
<rect x="363.1" y="735.05" width="5" height="5" fill="#fff" stroke="#000" stroke-width="1.7"/>
<rect x="390.9" y="731.77" width="5" height="5" fill="#fff" stroke="#000" stroke-width="1.7"/>
<rect x="419.1" y="733.69" width="5" height="5" fill="#fff" stroke="#000" stroke-width="1.7"/>
<path d="M365.6 733.41L369.20000000000005 740.11H362.0Z" fill="#000"/>
<path d="M393.4 732.59L397.0 739.29H389.79999999999995Z" fill="#000"/>
<path d="M421.6 733.41L425.20000000000005 740.11H418.0Z" fill="#000"/>
<circle cx="365.6" cy="734.82" r="2.5" fill="#fff" stroke="#000" stroke-width="1.5"/>
<circle cx="393.4" cy="736.19" r="2.5" fill="#fff" stroke="#000" stroke-width="1.5"/>
<circle cx="421.6" cy="742.47" r="2.5" fill="#fff" stroke="#000" stroke-width="1.5"/>
<path d="M362.70000000000005 734.65L368.5 740.45M368.5 734.65L362.70000000000005 740.45M365.6 734.25V740.85" stroke="#000" stroke-width="1.3" fill="none"/>
<path d="M390.5 735.2L396.29999999999995 741.0M396.29999999999995 735.2L390.5 741.0M393.4 734.8V741.4" stroke="#000" stroke-width="1.3" fill="none"/>
<path d="M418.70000000000005 738.2L424.5 744.0M424.5 738.2L418.70000000000005 744.0M421.6 737.8V744.4" stroke="#000" stroke-width="1.3" fill="none"/>
<path d="M376 599.7H400.3" stroke="#808080" stroke-width="0.9"/>
<path d="M388.2 596.2L391.7 599.7L388.2 603.2L384.7 599.7Z" fill="#000"/>
<text x="403.3" y="603.6" font-size="10.6" text-anchor="start" textLength="43.5" lengthAdjust="spacingAndGlyphs" >Hsp70L1</text>
<path d="M376 611.7H400.3" stroke="#808080" stroke-width="0.9"/>
<rect x="384.8" y="608.3" width="6.8" height="6.8" fill="#000"/>
<text x="403.3" y="615.6" font-size="10.6" text-anchor="start" textLength="93.8" lengthAdjust="spacingAndGlyphs" >Hsp70L1-SIINFEKL</text>
<path d="M376 623.6H400.3" stroke="#c4c4c4" stroke-width="0.9"/>
<path d="M388.2 620.8L390.8 625.9H385.59999999999997Z" fill="#fff" stroke="#000" stroke-width="1.4" stroke-linejoin="miter"/>
<text x="403.3" y="627.5" font-size="10.6" text-anchor="start" textLength="31.6" lengthAdjust="spacingAndGlyphs" >Hsp70</text>
<path d="M376 635.6H400.3" stroke="#808080" stroke-width="0.9"/>
<rect x="385.7" y="633.1" width="5" height="5" fill="#fff" stroke="#000" stroke-width="1.7"/>
<text x="403.3" y="639.5" font-size="10.6" text-anchor="start" textLength="82.2" lengthAdjust="spacingAndGlyphs" >Hsp70-SIINFEKL</text>
<path d="M376 647.5H400.3" stroke="#808080" stroke-width="0.9"/>
<path d="M388.2 643.9L391.8 650.6H384.59999999999997Z" fill="#000"/>
<text x="403.3" y="651.4" font-size="10.6" text-anchor="start" textLength="21.8" lengthAdjust="spacingAndGlyphs" >OVA</text>
<path d="M376 659.5H400.3" stroke="#808080" stroke-width="0.9"/>
<circle cx="388.2" cy="659.5" r="2.5" fill="#fff" stroke="#000" stroke-width="1.5"/>
<text x="403.3" y="663.4" font-size="10.6" text-anchor="start" textLength="115.8" lengthAdjust="spacingAndGlyphs" >SIINFEKL Hsp70L1 mix</text>
<path d="M376 671.4H400.3" stroke="#808080" stroke-width="0.9"/>
<path d="M385.3 668.5L391.09999999999997 674.3M391.09999999999997 668.5L385.3 674.3M388.2 668.1V674.7" stroke="#000" stroke-width="1.3" fill="none"/>
<text x="403.3" y="675.3" font-size="10.6" text-anchor="start" textLength="21" lengthAdjust="spacingAndGlyphs" >PBS</text>
</svg></body></html>
